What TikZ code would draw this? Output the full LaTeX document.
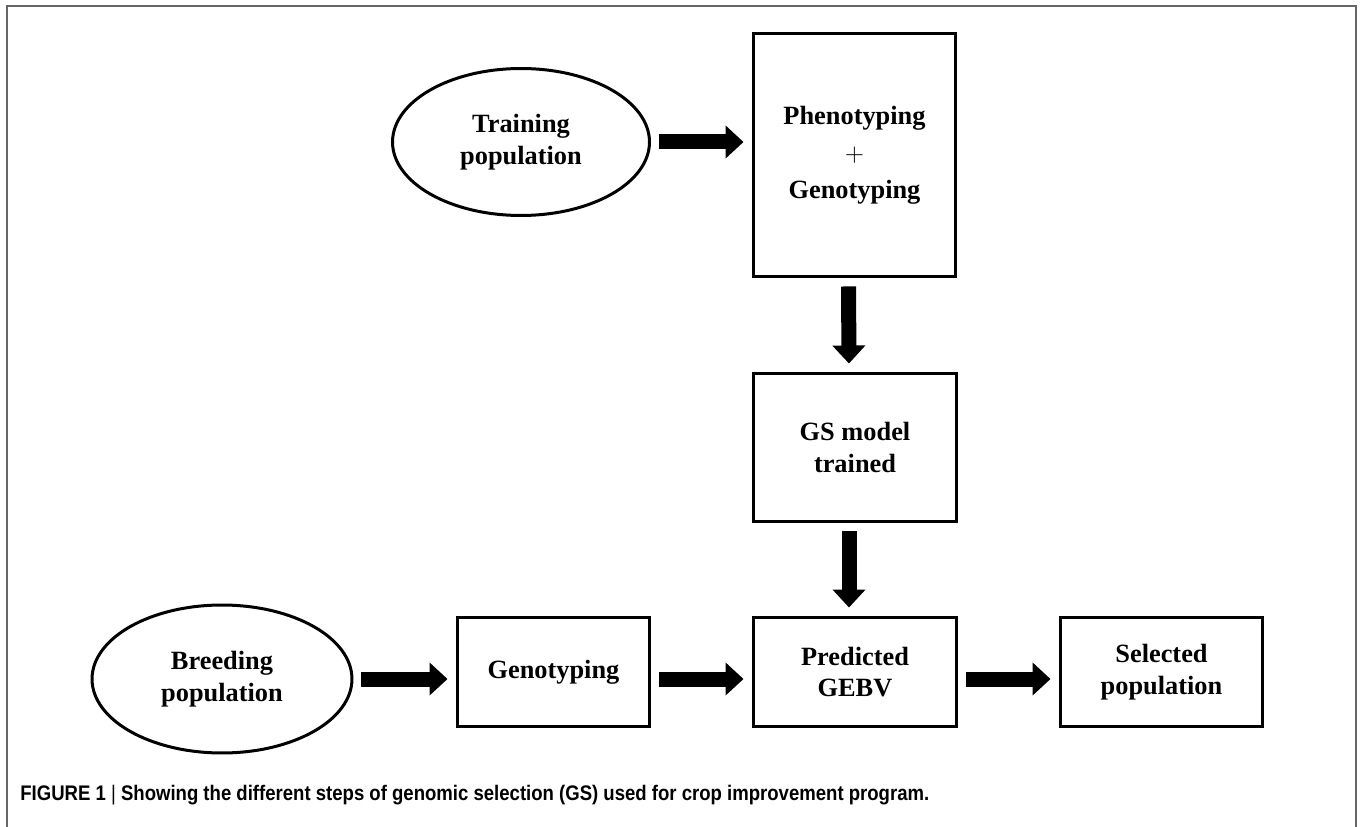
\documentclass[tikz,border=0pt]{standalone}
\usepackage{graphicx}
\usepackage{fontspec}
\setmainfont{Liberation Serif}
\newfontfamily\capfont{Liberation Sans}
\usetikzlibrary{shapes.geometric, arrows.meta}

\begin{document}
\begin{tikzpicture}[x=0.02cm, y=-0.02cm,
        stage/.style={draw, line width=0.06cm, inner sep=0, align=center, font=\fontsize{15}{18}\selectfont\bfseries},
        pop/.style={stage, ellipse},
        blockarrow/.style={line width=0.3cm, -{Triangle[width=0.64cm, length=0.36cm]}, shorten <=0.16cm, shorten >=0.16cm}]
        \useasboundingbox (0,0) rectangle (1362,827);
        \draw[gray!80!black, line width=0.04cm] (7,827) -- (7,6) -- (1356,6) -- (1356,827);
        % top row and column
        \node[pop, minimum width=5.14cm, minimum height=2.94cm] (train) at (521,142) {Training\\population};
        \node[stage, minimum width=4.06cm, minimum height=4.88cm] (pheno) at (854.5,155) {Phenotyping\\[3pt] $+$\\[3pt] Genotyping};
        \node[stage, minimum width=4.08cm, minimum height=2.98cm] (gsmodel) at (855,447.5) {GS model\\trained};
        % bottom row
        \node[pop, minimum width=5.2cm, minimum height=2.96cm] (breed) at (222,679) {Breeding\\population};
        \node[stage, minimum width=3.86cm, minimum height=2.2cm] (geno) at (553.5,672) {Genotyping};
        \node[stage, minimum width=4.08cm, minimum height=2.2cm] (pred) at (855,672) {Predicted\\GEBV};
        \node[stage, minimum width=4.06cm, minimum height=2.2cm] (sel) at (1161.5,672) {Selected\\population};
        \draw[blockarrow] (train.east) -- (train.east -| pheno.west);
        \draw[blockarrow] ([xshift=-0.12cm]pheno.south) -- ([xshift=-0.12cm]gsmodel.north);
        \draw[blockarrow] ([xshift=-0.12cm]gsmodel.south) -- ([xshift=-0.12cm]pred.north);
        \draw[blockarrow] (breed.east) -- (breed.east -| geno.west);
        \draw[blockarrow] (geno.east |- breed.east) -- (pred.west |- breed.east);
        \draw[blockarrow] (pred.east |- breed.east) -- (sel.west |- breed.east);
        \node[anchor=west, inner sep=0, font=\capfont\bfseries\fontsize{12}{14}\selectfont] (caption) at (20,795) {\scalebox{0.88}[1]{FIGURE 1 {\mdseries|} Showing the different steps of genomic selection (GS) used for crop improvement program.}};
    \end{tikzpicture}
\end{document}
